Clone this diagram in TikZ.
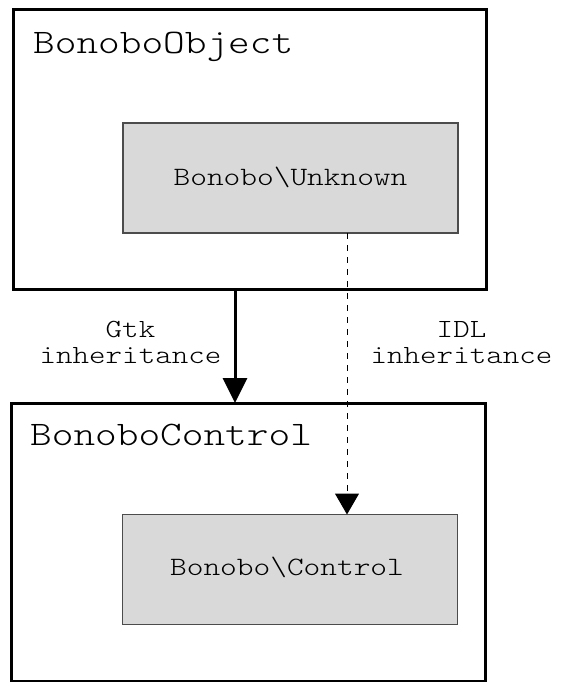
\documentclass[tikz,border=0pt]{standalone}
\usepackage{fontspec}
\newfontfamily\courfont[FakeStretch=1.2]{lmmonolt10-regular.otf}
\usetikzlibrary{arrows.meta}

\begin{document}
\begin{tikzpicture}[x=1pt,y=-1pt,
  outerbox/.style={draw=black,line width=3pt,inner sep=0pt,outer sep=0pt},
  innerbox/.style={draw=black!70,fill=black!15,line width=1.5pt,inner sep=0pt,outer sep=0pt},
  title/.style={font=\courfont\fontsize{34.4}{36}\selectfont,anchor=base west,inner sep=0pt},
  boxtext/.style={font=\courfont\fontsize{26.5}{28}\selectfont,anchor=base,inner sep=0pt},
  edgelabel/.style={font=\courfont\fontsize{26.2}{26}\selectfont,align=center,anchor=base,inner sep=0pt},
  gtkarrow/.style={line width=3pt,-{Triangle[length=25pt,width=24pt]}},
  idlarrow/.style={line width=1pt,dash pattern=on 6pt off 6pt,-{Triangle[length=21pt,width=24pt]}}]
  \useasboundingbox (0,0) rectangle (560,682);

  % BonoboObject and its CORBA interface
  \node[outerbox,minimum width=473pt,minimum height=279pt] (bobj) at (249.5,149.5) {};
  \node[title] (bobjtitle) at (33,54) {BonoboObject};
  \node[innerbox,minimum width=335pt,minimum height=110pt] (unk) at (290.5,178) {};
  \node[boxtext] (unktext) at (290.5,185) {Bonobo\textbackslash Unknown};

  % BonoboControl and its CORBA interface
  \node[outerbox,minimum width=474pt,minimum height=278pt] (bctl) at (248,542) {};
  \node[title] (bctltitle) at (30,445) {BonoboControl};
  \node[innerbox,minimum width=335pt,minimum height=110pt] (ctl) at (290,569.5) {};
  \node[boxtext] (ctltext) at (287,575) {Bonobo\textbackslash Control};

  % inheritance connectors
  \coordinate (gtkx) at (235,0);
  \coordinate (idlx) at (347,0);
  \draw[gtkarrow] (bobj.south -| gtkx) -- (bctl.north -| gtkx);
  \draw[idlarrow] (unk.south -| idlx) -- (ctl.north -| idlx);

  % labels: the base anchor of a two-line node sits on its last line
  \node[edgelabel] (gtklabel) at (130.5,363) {Gtk\\inheritance};
  \node[edgelabel] (idllabel) at (461.5,363) {IDL\\inheritance};
\end{tikzpicture}
\end{document}
